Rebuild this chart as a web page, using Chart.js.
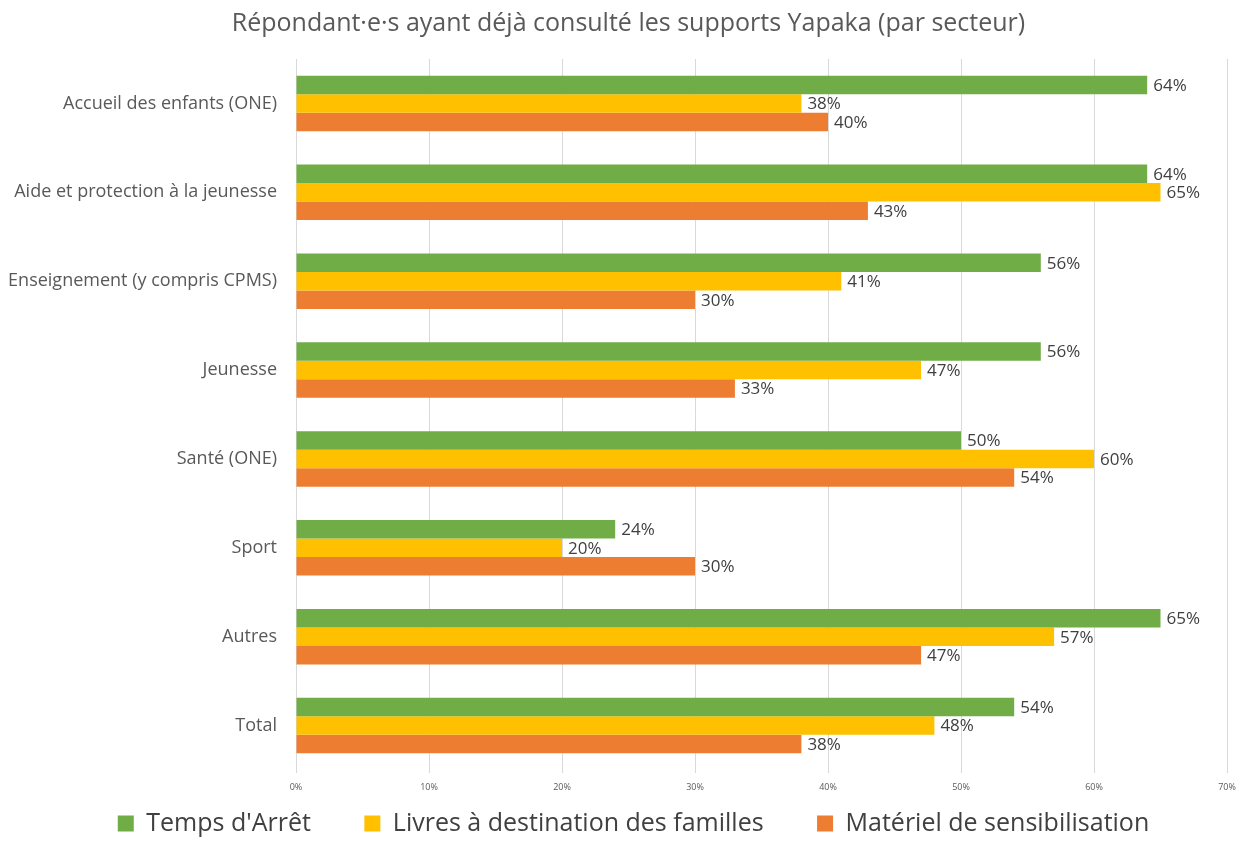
<!DOCTYPE html>
<html><head><meta charset="utf-8">
<script src="https://cdn.jsdelivr.net/npm/chart.js@4.4.1/dist/chart.umd.min.js"></script>
<style>html,body{margin:0;padding:0;background:#fff}#wrap{width:1250px;height:846px;position:relative}</style>
</head><body><div id="wrap"><canvas id="c"></canvas></div>
<script>
const categories = ["Accueil des enfants (ONE)","Aide et protection à la jeunesse","Enseignement (y compris CPMS)","Jeunesse","Santé (ONE)","Sport","Autres","Total"];
const tempsArret = [64,64,56,56,50,24,65,54];
const livresFamilles = [38,65,41,47,60,20,57,48];
const materielSensib = [40,43,30,33,54,30,47,38];
const seriesNames = ["Temps d'Arrêt","Livres à destination des familles","Matériel de sensibilisation"];
const tickValues = [0,10,20,30,40,50,60,70];

const FONT = "'Open Sans', sans-serif";
const labelPlugin = {
  id:'barLabels',
  afterLayout(chart){
    if(chart.titleBlock){ chart.titleBlock.left += 15; chart.titleBlock.right += 15; }
    if(chart.legend){ chart.legend.left += 20; chart.legend.right += 20; }
  },
  afterDatasetsDraw(chart){
    const ctx = chart.ctx;
    ctx.save();
    ctx.font = "17px " + FONT;
    ctx.fillStyle = "#404040";
    ctx.textBaseline = "middle";
    ctx.textAlign = "left";
    chart.data.datasets.forEach((ds,i)=>{
      chart.getDatasetMeta(i).data.forEach((bar,j)=>{
        ctx.fillText(ds.data[j]+"%", bar.x+6, bar.y+1);
      });
    });
    ctx.restore();
  }
};

new Chart(document.getElementById('c'),{
  type:'bar',
  data:{
    labels:categories,
    datasets:[
      {label:seriesNames[0],data:tempsArret,backgroundColor:'#70AD47'},
      {label:seriesNames[1],data:livresFamilles,backgroundColor:'#FFC000'},
      {label:seriesNames[2],data:materielSensib,backgroundColor:'#ED7D31'}
    ]
  },
  options:{
    indexAxis:'y',
    responsive:true,
    maintainAspectRatio:false,
    animation:false,
    datasets:{bar:{categoryPercentage:0.625,barPercentage:1}},
    layout:{padding:{left:0,right:23,top:0,bottom:0}},
    plugins:{
      title:{display:true,text:"Répondant·e·s ayant déjà consulté les supports Yapaka (par secteur)",
        color:'#595959',font:{family:FONT,size:25,weight:'normal'},padding:{top:9,bottom:20}},
      legend:{position:'bottom',labels:{color:'#404040',font:{family:FONT,size:25},boxWidth:16,boxHeight:16,padding:8,
        generateLabels(chart){
          const items = Chart.defaults.plugins.legend.labels.generateLabels(chart);
          items.forEach((it,i)=>{ if(i<items.length-1) it.text = it.text + "       "; });
          return items;
        }}},
      tooltip:{enabled:false}
    },
    scales:{
      x:{min:0,max:70,
        afterBuildTicks(axis){axis.ticks = tickValues.map(v=>({value:v}));},
        afterFit(axis){axis.height = 33;},
        ticks:{callback:v=>v+'%',color:'#595959',font:{family:FONT,size:9},padding:9},
        grid:{color:'#d9d9d9',drawTicks:true,tickLength:3},
        border:{display:false}
      },
      y:{
        afterFit(axis){axis.width = 296;},
        ticks:{color:'#595959',font:{family:FONT,size:18},padding:11},
        grid:{display:false},
        border:{display:true,color:'#d9d9d9'}
      }
    }
  },
  plugins:[labelPlugin]
});
</script></body></html>
